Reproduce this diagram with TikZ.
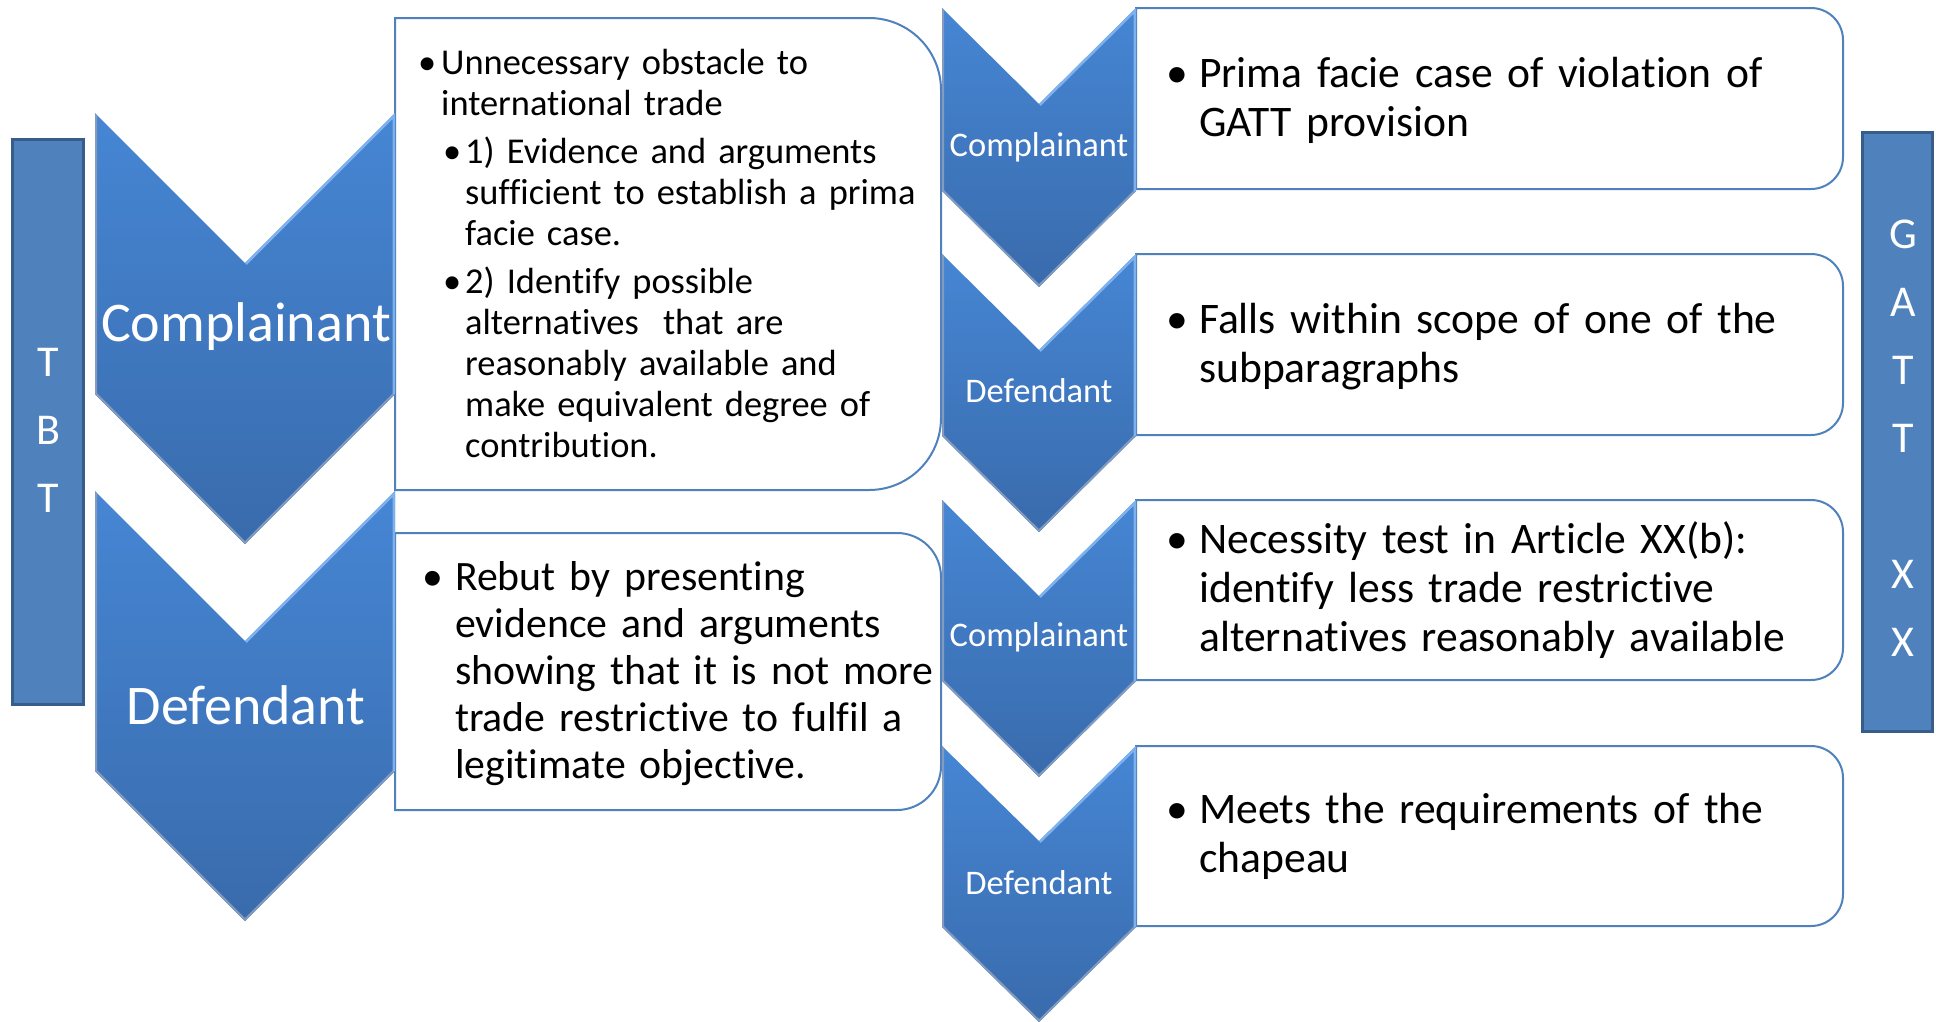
\documentclass[tikz,border=0pt]{standalone}
\usepackage{fontspec}
\setmainfont{Carlito}[Ligatures=NoCommon]
\usepackage{xcolor}
\definecolor{barblue}{RGB}{79,129,189}
\definecolor{bardark}{RGB}{56,93,138}
\definecolor{chevtop}{RGB}{70,134,212}
\definecolor{chevbot}{RGB}{57,107,172}
\definecolor{chevlight}{RGB}{125,178,238}
\definecolor{chevshade}{RGB}{46,88,146}
\definecolor{boxline}{RGB}{79,129,189}
\usepackage{tikz}
\usetikzlibrary{positioning}
\usetikzlibrary{calc}

% bullet, then a block of lines
\newcommand{\bitem}[3]{\noindent\hbox to #1{\textbullet\hss}\parbox[t]{#2}{#3}\par}
% chevron: left, top, width, notch depth, side height
\newcommand{\chev}[5]{%
  \begin{scope}
    \clip (#1,#2) -- ({#1+#3/2},{#2+#4}) -- ({#1+#3},#2) -- ({#1+#3},{#2+#5})
      -- ({#1+#3/2},{#2+#4+#5}) -- (#1,{#2+#5}) -- cycle;
    \shade[top color=chevtop,bottom color=chevbot]
      (#1,#2) rectangle ({#1+#3},{#2+#4+#5});
    \draw[line width=4pt,chevshade!60] (#1,#2) -- (#1,{#2+#5})
      -- ({#1+#3/2},{#2+#4+#5}) -- ({#1+#3},{#2+#5});
    \draw[line width=5pt,chevlight] ({#1+#3/2},{#2+#4}) -- ({#1+#3},#2)
      -- ({#1+#3},{#2+#5});
  \end{scope}}
% box, rounded on the right: left, top, right, bottom, radius
\newcommand{\rbox}[5]{%
  \draw[tbox] (#1,#2) -- ({#3-#5},#2) arc (-90:0:#5) -- (#3,{#4-#5})
    arc (0:90:#5) -- (#1,#4) -- cycle;}

\begin{document}
\begin{tikzpicture}[x=1pt,y=-1pt]
    \tikzstyle{every node}=[inner sep=0pt]
    \tikzstyle{sidebar}=[fill=barblue,draw=bardark,line width=3pt]
    \tikzstyle{tbox}=[fill=white,draw=boxline,line width=2pt]
    \tikzstyle{bigtag}=[text=white,font=\fontsize{56}{66}\selectfont]
    \tikzstyle{smalltag}=[text=white,font=\fontsize{34.5}{40}\selectfont]
    \tikzstyle{barletters}=[text=white,align=center,font=\fontsize{44}{68}\selectfont]
    \tikzstyle{boxtext}=[anchor=west,align=left,text=black]
    \tikzstyle{tbtitem}=[boxtext,anchor=base west,text width=500pt,font=\fontsize{36.4}{41}\selectfont]
    \tikzstyle{gtext}=[boxtext,text width=680pt,font=\fontsize{43.6}{49}\selectfont]
    \useasboundingbox (0,0) rectangle (1936,1021);

    % TBT side
    \rbox{395}{18}{941}{490}{72}
    \rbox{395}{533}{941}{810}{44}
    \chev{95}{113}{300}{150}{281}
    \chev{95}{491}{300}{150}{280}

    % GATT side
    \rbox{1136}{8}{1843}{189}{32}
    \rbox{1136}{254}{1843}{435}{32}
    \rbox{1136}{500}{1843}{680}{32}
    \rbox{1136}{746}{1843}{926}{32}
    \chev{942}{8}{194}{96}{183}
    \chev{942}{254}{194}{96}{182}
    \chev{942}{500}{194}{96}{181}
    \chev{942}{746}{194}{95}{181}

    \node[bigtag] (tbtcomp) at (246,327) {Complainant};
    \node[bigtag] (tbtdef) at (246,705) {Defendant};

    \node[smalltag] (gcomp1) at (1039,147) {Complainant};
    \node[smalltag] (gdef1) at (1039,391) {Defendant};
    \node[smalltag] (gcomp2) at (1039,637) {Complainant};
    \node[smalltag] (gdef2) at (1039,883) {Defendant};

    \node[tbtitem] (tbtitem1) at (418,74) {%
      \bitem{23pt}{470pt}{Unnecessary obstacle to\\international trade}};
    \node[tbtitem] (tbtitem2) at (443,163) {%
      \bitem{22pt}{460pt}{1) Evidence and arguments\\sufficient to establish a prima\\facie case.}};
    \node[tbtitem] (tbtitem3) at (443,293) {%
      \bitem{22pt}{460pt}{2) Identify possible\\alternatives\ \ that are\\reasonably available and\\make equivalent degree of\\contribution.}};

    \node[boxtext,text width=530pt,font=\fontsize{41.8}{47}\selectfont] (tbtdtext) at (422,673.5) {%
      \bitem{33pt}{495pt}{Rebut by presenting\\evidence and arguments\\showing that it is not more\\trade restrictive to fulfil a\\legitimate objective.}};

    \node[gtext] (gtext1) at (1166,100.5) {%
      \bitem{33pt}{640pt}{Prima facie case of violation of\\GATT provision}};
    \node[gtext] (gtext2) at (1166,346.5) {%
      \bitem{33pt}{640pt}{Falls within scope of one of the\\subparagraphs}};
    \node[gtext] (gtext3) at (1166,590) {%
      \bitem{33pt}{640pt}{Necessity test in Article XX(b):\\identify less trade restrictive\\alternatives reasonably available}};
    \node[gtext] (gtext4) at (1166,836) {%
      \bitem{33pt}{640pt}{Meets the requirements of the\\chapeau}};

    % side bars
    \draw[sidebar] (12,139) rectangle (83,704);
    \node[barletters] (tbt) at (48,430) {T\\B\\T};
    \draw[sidebar] (1862,132) rectangle (1932,731);
    \node[barletters] (gatt) at (1903,438) {G\\A\\T\\T\\[68pt]X\\X};
\end{tikzpicture}
\end{document}
